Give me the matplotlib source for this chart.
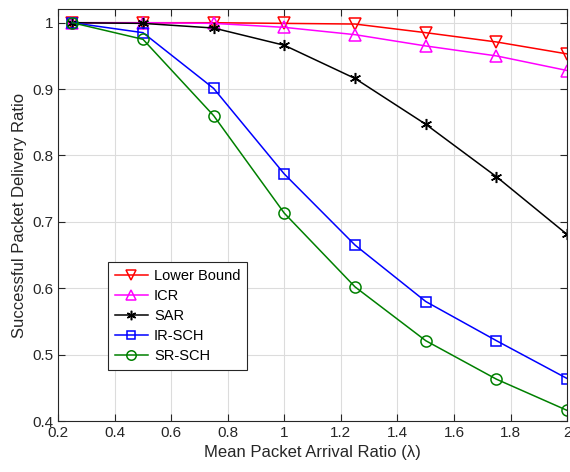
import numpy as np
import matplotlib.pyplot as plt

plt.rcParams['font.family'] = ['Liberation Sans', 'DejaVu Sans']

lam = [0.25, 0.5, 0.75, 1.0, 1.25, 1.5, 1.75, 2.0]
lower_bound = [1.0, 1.0, 1.0, 0.999, 0.998, 0.985, 0.971, 0.953]
icr = [1.0, 1.0, 0.999, 0.993, 0.982, 0.965, 0.950, 0.928]
sar = [1.0, 0.999, 0.992, 0.966, 0.916, 0.847, 0.768, 0.681]
ir_sch = [1.0, 0.985, 0.901, 0.772, 0.665, 0.580, 0.521, 0.464]
sr_sch = [1.0, 0.975, 0.860, 0.713, 0.602, 0.521, 0.463, 0.416]

fig = plt.figure(figsize=(5.7, 4.72), dpi=100)
ax = fig.add_axes([0.102, 0.108, 0.893, 0.872])

mk = dict(markersize=8, markerfacecolor='none', linewidth=1.1, markeredgewidth=1.1)
ax.plot(lam, lower_bound, color='red', marker='v', label='Lower Bound', **mk)
ax.plot(lam, icr, color='magenta', marker='^', label='ICR', **mk)
ax.plot(lam, sar, color='black', marker=(6, 2, 0), label='SAR',
        markersize=8, linewidth=1.1, markeredgewidth=1.1)
ax.plot(lam, ir_sch, color='blue', marker='s', label='IR-SCH',
        markersize=7, markerfacecolor='none', linewidth=1.1, markeredgewidth=1.1)
ax.plot(lam, sr_sch, color='green', marker='o', label='SR-SCH', **mk)

ax.set_xlim(0.2, 2.0)
ax.set_ylim(0.4, 1.02)
ax.set_xticks(np.arange(0.2, 2.01, 0.2))
ax.set_xticklabels(['0.2', '0.4', '0.6', '0.8', '1', '1.2', '1.4', '1.6', '1.8', '2'])
ax.set_yticks(np.arange(0.4, 1.01, 0.1))
ax.set_yticklabels(['0.4', '0.5', '0.6', '0.7', '0.8', '0.9', '1'])
ax.tick_params(direction='in', top=True, right=True, labelsize=11, colors='#262626',
               length=5)
ax.grid(True, color='#dcdcdc', linewidth=0.8)
ax.set_axisbelow(True)
for s in ax.spines.values():
    s.set_color('#262626')
    s.set_linewidth(0.8)

ax.set_xlabel('Mean Packet Arrival Ratio (λ)', fontsize=12, color='#262626')
ax.set_ylabel('Successful Packet Delivery Ratio', fontsize=12, color='#262626')

leg = ax.legend(loc='lower left', bbox_to_anchor=(0.098, 0.124), fontsize=10.5,
                fancybox=False, edgecolor='#262626', framealpha=1,
                handlelength=2.3, borderpad=0.45, labelspacing=0.42,
                handletextpad=0.4, borderaxespad=0, markerscale=0.85)
leg.get_frame().set_linewidth(0.8)

fig.savefig('out.png', dpi=100)
